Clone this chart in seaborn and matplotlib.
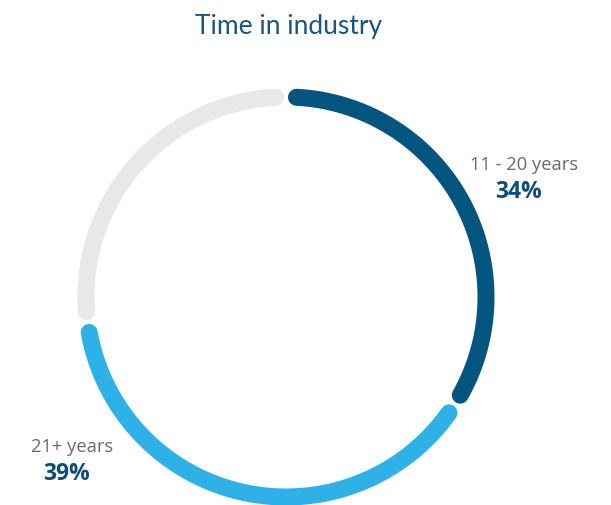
import numpy as np
import pandas as pd
import matplotlib
matplotlib.use("Agg")
import matplotlib.pyplot as plt
import seaborn as sns

# Data
categories = ["11 - 20 years", "21+ years", "Other"]
shares = [34, 39, 27]
colors = ["#02557f", "#2db1e6", "#e9e7e8"]
show_label = [True, True, False]

title = "Time in industry"

sns.set_theme(style="white")
plt.rcParams["font.family"] = ["Open Sans", "DejaVu Sans"]

W, H = 611, 506
fig = plt.figure(figsize=(W / 100, H / 100), dpi=100)
ax = fig.add_axes([0, 0, 1, 1])

# Ring geometry (pixel space, y grows downwards)
cx, cy, r = 286, 298, 200
stroke_px = 17
lw = stroke_px * 72 / 100
pad_deg = 3.0

start = 0.0
for cat, val, col in zip(categories, shares, colors):
    span = 360.0 * val / sum(shares)
    theta = np.radians(np.linspace(start + pad_deg, start + span - pad_deg, 200))
    arc = pd.DataFrame({"x": cx + r * np.sin(theta), "y": cy - r * np.cos(theta)})
    sns.lineplot(data=arc, x="x", y="y", sort=False, estimator=None, color=col,
                 linewidth=lw, solid_capstyle="round", ax=ax, legend=False)
    start += span

ax.set_xlim(0, W)
ax.set_ylim(H, 0)
ax.set_aspect("equal")
ax.axis("off")

# Title
ax.text(289, 26, title, ha="center", va="center", fontsize=19,
        color="#1b557f", family=["Lato", "DejaVu Sans"])

# Segment labels
label_pos = [(524, 165, 519, 192), (72, 447, 67, 474)]
for (lx, ly, px, py), cat, val, show in zip(label_pos, categories, shares, show_label):
    if not show:
        continue
    ax.text(lx, ly, cat, ha="center", va="center", fontsize=13.2, color="#6a6a6a")
    ax.text(px, py, f"{val}%", ha="center", va="center", fontsize=16.5,
            fontweight="bold", color="#0b4d78")

fig.savefig("out.png", dpi=100)
